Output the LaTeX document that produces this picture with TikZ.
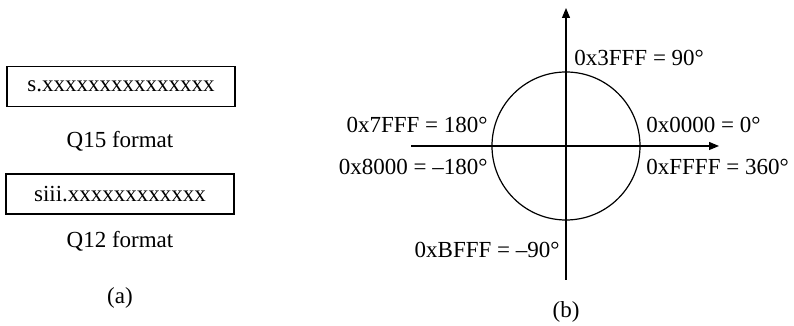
\documentclass[tikz,border=0pt]{standalone}
\usepackage{fontspec}
\setmainfont{Liberation Serif}
\usetikzlibrary{arrows.meta,positioning}

\begin{document}
\begin{tikzpicture}[x=0.5pt,y=0.5pt]
\tikzset{
  fmtbox/.style={draw=black,line width=0.6pt,minimum width=114pt,minimum height=20pt,inner sep=0pt},
  caption/.style={inner sep=0pt},
  anglelabel/.style={inner sep=0pt},
  axis/.style={draw=black,line width=0.6pt,-{Triangle[length=5pt,width=4pt]}},
  plainline/.style={draw=black,line width=0.6pt}
}
\useasboundingbox (0,0) rectangle (794,326);
\fontsize{11.5}{14}\selectfont
% (a) fixed point formats
\node[fmtbox] (q15box) at (121,239.5) {s.xxxxxxxxxxxxxxx};
\node[caption] (q15cap) at (120,185) {Q15 format};
\node[fmtbox] (q12box) at (120,132) {siii.xxxxxxxxxxxx};
\node[caption] (q12cap) at (120,85) {Q12 format};
\node[caption] (capa) at (120,28) {(a)};
% (b) angle mapping
\coordinate (ax_left) at (411,180);
\coordinate (ax_right) at (719,180);
\coordinate (ax_bot) at (566,46);
\coordinate (ax_top) at (566,318);
\node[circle,plainline,minimum size=74pt,inner sep=0pt] (unitcircle) at (566,180) {};
\draw[axis] (ax_left) -- (ax_right);
\draw[axis] (ax_bot) -- (ax_top);
\node[anglelabel,anchor=west] (l90) at (574,268) {0x3FFF = 90°};
\node[anglelabel,anchor=east] (l180) at (488,201) {0x7FFF = 180°};
\node[anglelabel,anchor=east] (lm180) at (488,159) {0x8000 = –180°};
\node[anglelabel,anchor=west] (l0) at (646,201) {0x0000 = 0°};
\node[anglelabel,anchor=west] (l360) at (646,159) {0xFFFF = 360°};
\node[anglelabel,anchor=east] (lm90) at (560,76) {0xBFFF = –90°};
\node[caption] (capb) at (566,14) {(b)};
\end{tikzpicture}
\end{document}
